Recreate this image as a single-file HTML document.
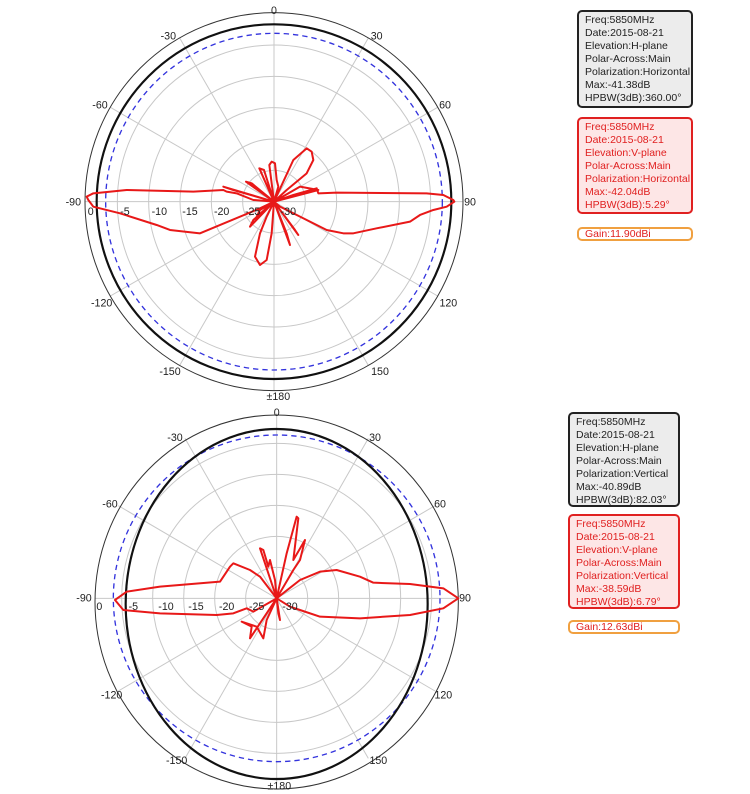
<!DOCTYPE html>
<html><head><meta charset="utf-8"><style>
body{margin:0;background:#fff;width:750px;height:794px;overflow:hidden;position:relative;font-family:"Liberation Sans",sans-serif}
svg{position:absolute;left:0;top:0}
.box{position:absolute;box-sizing:border-box;border:2px solid #222;border-radius:5px;background:#ececec;font-size:10.5px;line-height:13px;padding:2px 0 0 6px;white-space:nowrap;color:#222;overflow:hidden}
.red{border-color:#e02020;background:#fde6e6;color:#e02020}
.gain{border-color:#f0a040;background:#fff;color:#e02020;line-height:11px;padding:0 0 0 6px}
</style></head><body>
<svg width="750" height="794" font-family="Liberation Sans, sans-serif">
<g transform="translate(60,0) scale(0.33333)">
 <g fill="none" stroke="#c8c8c8" stroke-width="3">
  <circle cx="642" cy="605" r="94"/><circle cx="642" cy="605" r="188"/><circle cx="642" cy="605" r="282"/><circle cx="642" cy="605" r="376"/><circle cx="642" cy="605" r="470"/>
  <g transform="translate(642,605)">
   <line x1="0" y1="-567" x2="0" y2="567"/><line x1="-567" y1="0" x2="567" y2="0"/>
   <line x1="-283" y1="-491" x2="283" y2="491"/><line x1="283" y1="-491" x2="-283" y2="491"/>
   <line x1="-491" y1="-283" x2="491" y2="283"/><line x1="491" y1="-283" x2="-491" y2="283"/>
  </g>
 </g>
 <circle cx="642" cy="605" r="567" fill="none" stroke="#333" stroke-width="3"/>
 <circle cx="642" cy="605" r="505" fill="none" stroke="#3333dd" stroke-width="4" stroke-dasharray="16,12"/>
 <circle cx="642" cy="605" r="532" fill="none" stroke="#111" stroke-width="6.5"/>
 <path fill="none" stroke="#e81818" stroke-width="6" stroke-linejoin="round" d="M642,605 L700,585 L770,565 L775,580 L830,578 L1100,580 L1150,585 L1180,600 L1183,605 L1160,620 L1120,630 L1080,645 L1050,665 L950,685 L880,700 L850,700 L800,690 L720,650 L660,620 Z
 M642,605 L580,600 L530,580 L500,575 L490,570 L400,575 L200,570 L100,580 L80,590 L85,600 L100,620 L180,640 L290,675 L330,690 L420,700 L600,625 Z
 M642,605 L700,480 L740,445 L755,455 L760,480 L740,520 L680,570 Z
 M642,605 L628,495 L635,485 L645,490 L650,540 L655,560 Z
 M642,605 L598,505 L612,510 Z M642,605 L558,545 L575,550 Z M642,605 L490,560 L520,570 Z M642,605 L720,560 L775,570 Z
 M642,605 L620,650 L600,700 L585,770 L600,795 L620,780 L635,700 Z
 M642,605 L690,735 L680,700 Z M642,605 L715,705 L705,690 Z M642,605 L570,680 L580,660 Z M642,605 L600,630 L590,650 Z"/>
 <g font-size="32" fill="#222" text-anchor="middle">
  <text x="642" y="42">0</text><text x="325" y="118">-30</text><text x="950" y="118">30</text>
  <text x="120" y="325">-60</text><text x="1155" y="325">60</text><text x="40" y="617">-90</text><text x="1230" y="617">90</text>
  <text x="125" y="920">-120</text><text x="1165" y="920">120</text><text x="330" y="1125">-150</text><text x="960" y="1125">150</text><text x="655" y="1200">±180</text>
  <text x="92" y="645">0</text><text x="195" y="645">-5</text><text x="298" y="645">-10</text><text x="390" y="645">-15</text><text x="485" y="645">-20</text><text x="578" y="645">-25</text><text x="685" y="645">-30</text>
 </g>
</g>
<g transform="translate(60,400) scale(0.33333)">
 <g fill="none" stroke="#c8c8c8" stroke-width="3">
  <circle cx="650" cy="595" r="93"/><circle cx="650" cy="595" r="186"/><circle cx="650" cy="595" r="279"/><circle cx="650" cy="595" r="372"/><circle cx="650" cy="595" r="465"/>
  <g transform="translate(650,595)">
   <line x1="0" y1="-555" x2="0" y2="555"/><line x1="-545" y1="0" x2="545" y2="0"/>
   <line x1="-275" y1="-480" x2="275" y2="480"/><line x1="275" y1="-480" x2="-275" y2="480"/>
   <line x1="-475" y1="-278" x2="475" y2="278"/><line x1="475" y1="-278" x2="-475" y2="278"/>
  </g>
 </g>
 <ellipse cx="650" cy="606" rx="545" ry="561" fill="none" stroke="#333" stroke-width="3"/>
 <circle cx="650" cy="595" r="490" fill="none" stroke="#3333dd" stroke-width="4" stroke-dasharray="16,12"/>
 <ellipse cx="650" cy="612" rx="453" ry="525" fill="none" stroke="#111" stroke-width="6.5"/>
 <path fill="none" stroke="#e81818" stroke-width="6" stroke-linejoin="round" d="M650,595 L720,540 L780,515 L830,510 L900,530 L940,548 L1050,552 L1150,565 L1195,595 L1150,625 L1050,645 L900,655 L780,650 L720,630 L690,620 Z
 M650,595 L600,530 L570,510 L520,490 L510,500 L480,545 L300,560 L200,575 L165,600 L190,630 L300,640 L470,645 L520,640 L560,625 L580,635 Z
 M650,595 L680,460 L710,350 L715,355 L700,480 L735,420 L720,480 L700,510 Z
 M650,595 L600,445 L610,450 L625,500 L630,480 L645,540 Z
 M650,595 L570,715 L575,680 L545,665 L590,680 L610,715 L620,660 Z M650,595 L660,660 L655,640 Z"/>
 <g font-size="32" fill="#222" text-anchor="middle">
  <text x="650" y="48">0</text><text x="345" y="123">-30</text><text x="945" y="123">30</text>
  <text x="150" y="322">-60</text><text x="1140" y="322">60</text><text x="72" y="604">-90</text><text x="1215" y="604">90</text>
  <text x="155" y="895">-120</text><text x="1150" y="895">120</text><text x="350" y="1092">-150</text><text x="955" y="1092">150</text><text x="658" y="1168">±180</text>
  <text x="118" y="630">0</text><text x="220" y="630">-5</text><text x="318" y="630">-10</text><text x="408" y="630">-15</text><text x="500" y="630">-20</text><text x="590" y="630">-25</text><text x="690" y="630">-30</text>
 </g>
</g>
</svg>
<div class="box" style="left:577px;top:10px;width:116px;height:98px">Freq:5850MHz<br>Date:2015-08-21<br>Elevation:H-plane<br>Polar-Across:Main<br>Polarization:Horizontal<br>Max:-41.38dB<br>HPBW(3dB):360.00°</div>
<div class="box red" style="left:577px;top:117px;width:116px;height:97px">Freq:5850MHz<br>Date:2015-08-21<br>Elevation:V-plane<br>Polar-Across:Main<br>Polarization:Horizontal<br>Max:-42.04dB<br>HPBW(3dB):5.29°</div>
<div class="box gain" style="left:577px;top:227px;width:116px;height:14px">Gain:11.90dBi</div>
<div class="box" style="left:568px;top:412px;width:112px;height:95px">Freq:5850MHz<br>Date:2015-08-21<br>Elevation:H-plane<br>Polar-Across:Main<br>Polarization:Vertical<br>Max:-40.89dB<br>HPBW(3dB):82.03°</div>
<div class="box red" style="left:568px;top:514px;width:112px;height:95px">Freq:5850MHz<br>Date:2015-08-21<br>Elevation:V-plane<br>Polar-Across:Main<br>Polarization:Vertical<br>Max:-38.59dB<br>HPBW(3dB):6.79°</div>
<div class="box gain" style="left:568px;top:620px;width:112px;height:14px">Gain:12.63dBi</div>
</body></html>
